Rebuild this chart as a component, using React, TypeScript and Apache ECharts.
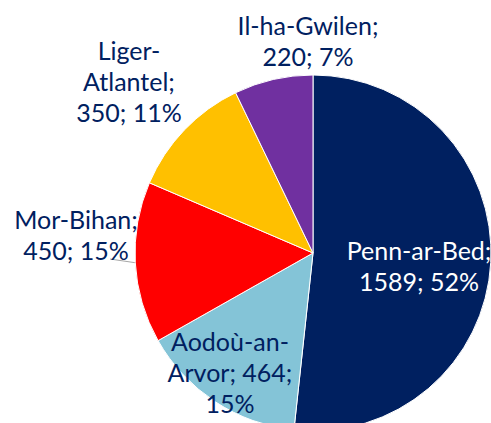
import React, { useEffect, useRef } from "react";
import * as echarts from "echarts";

// ---- data ----
const names = ["Penn-ar-Bed", "Aodoù-an-Arvor", "Mor-Bihan", "Liger-Atlantel", "Il-ha-Gwilen"];
const values = [1589, 464, 450, 350, 220];

// ---- styling / layout ----
const colors = ["#002060", "#84C4D7", "#FF0000", "#FFC000", "#7030A0"];
const labelColors = ["#FFFFFF", "#002060", "#002060", "#002060", "#002060"];
const wrapChars = [12, 11, 10, 9, 13];
const labelCenters: number[][] = [
  [419, 265],
  [230, 372],
  [76, 234],
  [129, 81],
  [308, 40],
];

function wrap(text: string, max: number): string {
  const tokens = text.split(/(?<=[- ])/);
  const lines: string[] = [];
  let cur = "";
  for (const t of tokens) {
    if ((cur + t).trimEnd().length > max && cur.trim()) {
      lines.push(cur.trimEnd());
      cur = t.trimStart();
    } else cur += t;
  }
  if (cur.trim()) lines.push(cur.trimEnd());
  return lines.join("\n");
}

export default function App() {
  const ref = useRef<HTMLDivElement>(null);
  useEffect(() => {
    if (!ref.current) return;
    const chart = echarts.init(ref.current, null, { renderer: "svg" });
    const data = names.map((n, i) => ({
      name: n,
      value: values[i],
      itemStyle: { color: colors[i] },
      label: {
        position: i < 2 ? "inside" : "outside",
        color: labelColors[i],
      },
      labelLine: {
        show: i === 2,
        lineStyle: { color: "#A6A6A6", width: 1 },
      },
    }));
    chart.setOption({
      animation: false,
      series: [
        {
          type: "pie",
          center: [313, 253],
          radius: 178,
          startAngle: 90,
          clockwise: true,
          avoidLabelOverlap: false,
          itemStyle: { borderColor: "#FFFFFF", borderWidth: 1 },
          label: {
            show: true,
            fontFamily: "Lato",
            fontSize: 25,
            lineHeight: 31,
            align: "center",
            formatter: (p: any) =>
              wrap(`${p.name}; ${p.value}; ${Math.round(p.percent)}%`, wrapChars[p.dataIndex]),
          },
          labelLine: { length: 10, length2: 10 },
          emphasis: { disabled: true },
          labelLayout: (params: any) => {
            const i = params.dataIndex;
            const c = labelCenters[i];
            const out: any = { x: c[0], y: c[1], align: "center", verticalAlign: "middle" };
            if (i === 2 && params.labelLinePoints) {
              const p0 = params.labelLinePoints[0];
              out.labelLinePoints = [p0, [110, 259], [110, 259]];
            }
            return out;
          },
          data,
        },
      ],
    });
    return () => chart.dispose();
  }, []);
  return (
    <div
      ref={ref}
      style={{ position: "absolute", left: 0, top: 0, width: 491, height: 423, background: "#fff" }}
    />
  );
}
